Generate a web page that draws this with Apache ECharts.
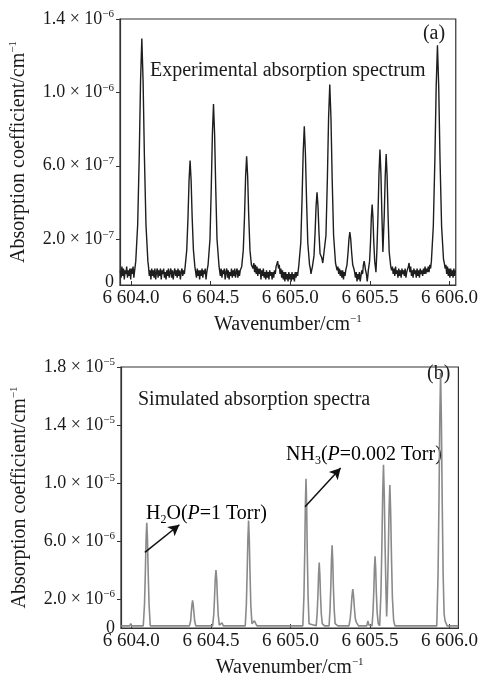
<!DOCTYPE html>
<html>
<head>
<meta charset="utf-8">
<script src="https://cdn.jsdelivr.net/npm/echarts@6/dist/echarts.min.js"></script>
<style>html,body{margin:0;padding:0;background:#fff;}#c{width:481px;height:680px;}</style>
</head>
<body>
<div id="c"></div>
<script>
// ---- data (wavenumber in cm^-1) ----
// (a) experimental absorption coefficient, in units of 1e-7 cm^-1
var expSpectrum = [
[6603.933,0.3],[6603.938,-0.1],[6603.943,0.5],[6603.948,0.0],[6603.953,0.4],[6603.958,-0.2],[6603.963,0.3],[6603.968,0.1],[6603.973,0.5],[6603.978,-0.1],
[6603.983,0.3],[6603.988,0.0],[6603.993,0.4],[6603.998,-0.2],[6604.003,0.4],[6604.008,0.1],[6604.013,0.5],[6604.018,-0.1],[6604.023,0.3],[6604.027,0.2],
[6604.030,0.8],[6604.042,2.8],[6604.052,6.6],[6604.060,10.6],[6604.068,12.94],[6604.076,10.6],[6604.084,6.6],[6604.094,2.8],[6604.106,0.8],
[6604.110,0.5],[6604.115,0.0],[6604.120,0.3],[6604.125,-0.2],[6604.130,0.4],[6604.135,0.0],[6604.140,0.3],[6604.145,-0.1],[6604.150,0.4],[6604.155,-0.2],
[6604.160,0.2],[6604.165,0.4],[6604.170,-0.1],[6604.175,0.3],[6604.180,0.0],[6604.185,0.4],[6604.190,-0.2],[6604.195,0.3],[6604.200,0.1],[6604.205,0.4],
[6604.210,-0.1],[6604.215,0.2],[6604.220,-0.2],[6604.225,0.3],[6604.230,0.0],[6604.235,0.4],[6604.240,-0.1],[6604.245,0.2],[6604.250,0.4],[6604.255,-0.1],
[6604.260,0.3],[6604.265,-0.2],[6604.270,0.2],[6604.275,0.4],[6604.280,0.0],[6604.285,0.3],[6604.290,-0.1],[6604.295,0.4],[6604.300,0.0],[6604.305,0.3],
[6604.310,-0.2],[6604.315,0.2],[6604.320,0.4],[6604.325,0.0],[6604.330,0.3],[6604.335,0.1],
[6604.340,0.5],[6604.350,1.4],[6604.358,3.2],[6604.3645,5.2],[6604.371,6.28],[6604.3775,5.2],[6604.384,3.2],[6604.392,1.4],[6604.401,0.5],
[6604.406,0.2],[6604.411,-0.1],[6604.416,0.4],[6604.421,0.0],[6604.426,0.3],[6604.431,-0.2],[6604.436,0.3],[6604.441,0.0],[6604.446,0.4],[6604.451,-0.1],
[6604.456,0.3],[6604.461,0.1],[6604.466,0.4],[6604.471,-0.2],[6604.476,0.2],[6604.480,0.4],
[6604.484,0.6],[6604.496,2.0],[6604.504,4.8],[6604.511,7.7],[6604.518,9.37],[6604.525,7.7],[6604.532,4.8],[6604.540,2.0],[6604.552,0.6],
[6604.556,0.3],[6604.561,0.0],[6604.566,0.4],[6604.571,-0.1],[6604.576,0.3],[6604.581,0.1],[6604.586,0.4],[6604.591,-0.2],[6604.596,0.2],[6604.601,0.4],
[6604.606,-0.1],[6604.611,0.3],[6604.616,-0.2],[6604.621,0.2],[6604.626,0.0],[6604.631,0.4],[6604.636,-0.1],[6604.641,0.3],[6604.646,0.0],[6604.651,0.4],
[6604.656,-0.1],[6604.661,0.2],[6604.666,0.4],[6604.671,-0.1],[6604.676,0.3],[6604.681,0.0],[6604.686,0.3],[6604.691,0.2],
[6604.695,0.5],[6604.705,1.4],[6604.713,3.3],[6604.7195,5.4],[6604.726,6.51],[6604.7325,5.4],[6604.739,3.3],[6604.747,1.4],[6604.756,0.6],
[6604.761,0.7],[6604.766,0.4],[6604.771,0.7],[6604.776,0.2],[6604.781,0.6],[6604.786,0.1],[6604.791,0.5],[6604.796,0.0],[6604.801,0.4],[6604.806,0.1],
[6604.811,0.4],[6604.816,-0.2],[6604.821,0.3],[6604.826,0.0],[6604.831,0.4],[6604.836,-0.1],[6604.841,0.2],[6604.846,-0.2],[6604.851,0.3],[6604.856,-0.1],
[6604.861,0.2],[6604.866,-0.2],[6604.871,0.3],[6604.876,0.0],[6604.881,0.2],[6604.886,-0.2],[6604.891,0.2],[6604.896,-0.1],[6604.901,0.3],[6604.906,0.1],
[6604.911,0.5],[6604.916,0.4],[6604.921,0.8],[6604.926,0.4],[6604.931,0.6],[6604.936,0.1],[6604.941,0.4],[6604.946,-0.1],[6604.951,0.3],[6604.956,-0.2],
[6604.961,0.2],[6604.966,-0.3],[6604.971,0.2],[6604.976,-0.2],[6604.981,0.1],[6604.986,-0.3],[6604.991,0.2],[6604.996,-0.2],[6605.001,0.1],[6605.006,-0.3],
[6605.011,0.2],[6605.016,-0.2],[6605.021,0.1],[6605.026,-0.3],[6605.031,0.2],[6605.036,-0.1],[6605.041,0.2],[6605.046,0.0],[6605.050,0.3],
[6605.054,0.6],[6605.066,1.8],[6605.074,4.2],[6605.081,6.7],[6605.088,8.15],[6605.095,6.7],[6605.102,4.2],[6605.110,1.8],[6605.121,0.6],
[6605.126,0.4],[6605.130,0.1],[6605.134,0.3],
[6605.139,0.5],[6605.149,1.1],[6605.156,2.4],[6605.162,3.8],[6605.168,4.55],[6605.174,3.8],[6605.180,2.4],[6605.187,1.2],[6605.197,1.0],[6605.204,0.7],
[6605.212,0.7],[6605.224,2.2],[6605.233,5.3],[6605.2405,8.6],[6605.248,10.43],[6605.2555,8.6],[6605.263,5.3],[6605.272,2.2],[6605.284,0.7],
[6605.289,0.6],[6605.294,0.3],[6605.299,0.5],[6605.304,0.1],[6605.309,0.4],[6605.314,0.0],[6605.319,0.3],[6605.324,-0.1],[6605.329,0.3],[6605.334,-0.2],
[6605.339,0.2],[6605.344,0.0],
[6605.348,0.3],[6605.356,0.6],[6605.363,1.3],[6605.3685,2.0],[6605.374,2.39],[6605.3795,2.0],[6605.385,1.3],[6605.392,0.6],[6605.399,0.4],
[6605.404,0.2],[6605.409,-0.1],[6605.414,0.2],[6605.419,-0.3],[6605.424,0.1],[6605.429,-0.2],[6605.434,0.2],[6605.439,-0.3],[6605.444,0.0],[6605.449,0.3],
[6605.454,0.1],[6605.459,0.6],[6605.464,0.8],[6605.468,0.9],[6605.473,0.3],[6605.478,0.1],[6605.483,-0.3],[6605.487,0.0],
[6605.490,0.3],[6605.498,0.8],[6605.504,1.9],[6605.509,3.2],[6605.514,3.88],[6605.519,3.2],[6605.524,1.9],[6605.530,0.8],[6605.538,0.2],
[6605.544,1.4],[6605.551,3.4],[6605.557,5.6],[6605.563,6.88],[6605.569,5.6],[6605.575,3.4],[6605.5815,1.3],
[6605.590,3.3],[6605.596,5.4],[6605.602,6.64],[6605.608,5.4],[6605.614,3.3],[6605.621,1.3],[6605.631,0.5],
[6605.636,0.3],[6605.641,0.5],[6605.646,0.1],[6605.651,0.4],[6605.656,0.0],[6605.661,0.5],[6605.666,0.1],[6605.671,0.3],[6605.676,-0.1],[6605.681,0.4],
[6605.686,0.0],[6605.691,0.3],[6605.696,-0.1],[6605.701,0.4],[6605.706,0.1],[6605.711,0.3],[6605.716,0.0],[6605.721,0.4],[6605.726,-0.1],[6605.731,0.2],
[6605.736,0.1],[6605.741,0.5],[6605.746,0.7],[6605.751,0.2],[6605.756,0.5],[6605.761,0.0],[6605.766,0.3],[6605.771,-0.1],[6605.776,0.4],[6605.781,0.1],
[6605.786,0.3],[6605.791,-0.1],[6605.796,0.4],[6605.801,0.0],[6605.806,0.3],[6605.811,-0.1],[6605.816,0.4],[6605.821,0.1],[6605.826,0.3],[6605.831,0.0],
[6605.836,0.4],[6605.841,0.1],[6605.846,0.5],[6605.851,0.1],[6605.856,0.4],[6605.861,0.2],[6605.866,0.5],[6605.871,0.2],[6605.876,0.6],[6605.881,0.4],
[6605.886,0.8],[6605.898,2.7],[6605.908,6.4],[6605.916,10.3],[6605.924,12.57],[6605.932,10.3],[6605.940,6.4],[6605.950,2.7],[6605.962,0.9],
[6605.967,0.7],[6605.972,0.4],[6605.977,0.6],[6605.982,0.1],[6605.987,0.5],[6605.992,0.0],[6605.997,0.4],[6606.002,-0.1],[6606.007,0.4],[6606.012,0.0],
[6606.017,0.3],[6606.022,-0.1],[6606.027,0.4],[6606.032,0.0],[6606.037,0.3]
];

// (b) simulated absorption coefficient, in units of 1e-6 cm^-1
var simSpectrum = [
[6603.936,0.15],[6603.990,0.15],[6603.996,0.3],[6604.002,0.15],
[6604.075,0.15],[6604.0826,1.6],[6604.088,3.8],[6604.0925,6.1],[6604.097,7.26],[6604.1015,6.1],[6604.106,3.8],[6604.1114,1.6],[6604.119,0.15],
[6604.365,0.15],[6604.373,0.5],[6604.377,1.1],[6604.381,1.6],[6604.385,1.90],[6604.389,1.6],[6604.393,1.1],[6604.398,0.5],[6604.405,0.15],
[6604.511,0.15],[6604.518,0.9],[6604.523,2.1],[6604.5275,3.4],[6604.532,3.99],[6604.5365,3.4],[6604.541,2.1],[6604.546,0.9],[6604.553,0.2],
[6604.562,0.2],[6604.570,0.35],[6604.578,0.15],
[6604.716,0.15],[6604.723,1.6],[6604.728,3.8],[6604.7325,6.1],[6604.737,7.42],[6604.7415,6.1],[6604.746,3.8],[6604.751,1.6],[6604.758,0.3],
[6604.766,0.3],[6604.774,0.5],[6604.782,0.3],[6604.790,0.15],
[6605.078,0.15],[6605.085,2.2],[6605.090,5.2],[6605.094,8.5],[6605.098,10.3],[6605.102,8.5],[6605.106,5.2],[6605.111,2.2],[6605.117,0.3],
[6605.162,0.15],[6605.168,1.0],[6605.173,2.3],[6605.177,3.7],[6605.181,4.52],[6605.185,3.7],[6605.189,2.3],[6605.194,1.0],[6605.200,0.3],
[6605.206,0.25],[6605.214,0.15],
[6605.243,0.15],[6605.249,1.3],[6605.254,2.9],[6605.258,4.7],[6605.262,5.71],[6605.266,4.7],[6605.270,2.9],[6605.275,1.3],[6605.281,0.3],
[6605.290,0.2],[6605.298,0.15],
[6605.368,0.15],[6605.376,0.65],[6605.382,1.4],[6605.387,2.2],[6605.392,2.69],[6605.397,2.2],[6605.402,1.4],[6605.408,0.65],[6605.414,0.4],
[6605.421,0.35],[6605.428,0.15],
[6605.480,0.15],[6605.487,0.48],[6605.494,0.2],
[6605.513,0.15],[6605.519,1.1],[6605.524,2.5],[6605.528,4.1],[6605.532,4.95],[6605.536,4.1],[6605.540,2.5],[6605.545,1.1],[6605.552,0.3],
[6605.561,0.15],[6605.569,2.4],[6605.575,5.7],[6605.580,9.2],[6605.585,11.25],[6605.590,9.2],[6605.595,5.7],[6605.601,2.4],[6605.605,0.8],
[6605.609,2.1],[6605.615,5.0],[6605.620,8.1],[6605.625,9.86],[6605.630,8.1],[6605.635,5.0],[6605.641,2.1],[6605.649,0.5],[6605.657,0.15],
[6605.920,0.15],[6605.928,3.7],[6605.934,8.9],[6605.939,14.4],[6605.944,17.6],[6605.949,14.4],[6605.954,8.9],[6605.960,3.7],[6605.966,1.0],
[6605.972,0.5],[6605.978,0.5],[6605.985,0.15],[6606.055,0.15]
];

// tick labels
var xTicks = [6604.0, 6604.5, 6605.0, 6605.5, 6606.0];
var yTicksA = [2, 6, 10, 14];          // x 1e-7
var yZeroA = -0.35;                    // position of the "0" label in (a)
var yTicksB = [0, 2, 6, 10, 14, 18];   // x 1e-6
var yTickMarksB = [2, 6, 10, 14, 18];

// annotation arrows in (b) [from, to] in data coordinates
var arrowH2O = [[6604.085, 5.21], [6604.302, 7.12]];
var arrowNH3 = [[6605.092, 8.36], [6605.316, 11.03]];

// ---- chart ----
var FF = '"Liberation Serif","Times New Roman",serif';
var TXT = '#1a1a1a';

function xFmt(v) { var s = v.toFixed(1); return s.charAt(0) + ' ' + s.slice(1); }
function yFmtA(v) {
  if (v <= 0) return '{n|0}';
  if (v >= 10) return '{n|' + (v / 10).toFixed(1) + ' \u00d7 10}{s|\u22126}';
  return '{n|' + v.toFixed(1) + ' \u00d7 10}{s|\u22127}';
}
function yFmtB(v) {
  if (v <= 0) return '{n|0}';
  if (v >= 10) return '{n|' + (v / 10).toFixed(1) + ' \u00d7 10}{s|\u22125}';
  return '{n|' + v.toFixed(1) + ' \u00d7 10}{s|\u22126}';
}
var yRich = {
  n: { fontFamily: FF, fontSize: 18, color: TXT, lineHeight: 20 },
  s: { fontFamily: FF, fontSize: 11, color: TXT, verticalAlign: 'top', lineHeight: 20 }
};
var nameRich = {
  s: { fontFamily: FF, fontSize: 11, color: TXT, verticalAlign: 'top', lineHeight: 22 }
};
var nameStyle = { fontFamily: FF, fontSize: 20, color: TXT, lineHeight: 22, rich: nameRich };

function xAxisCfg(idx, min, max) {
  return {
    type: 'value', gridIndex: idx, min: min, max: max,
    axisLine: { show: true, onZero: false, lineStyle: { color: '#333', width: 1.2 } },
    axisTick: { show: true, inside: true, length: 4, customValues: xTicks, lineStyle: { color: '#333' } },
    axisLabel: { customValues: xTicks, formatter: xFmt, fontFamily: FF, fontSize: 19, color: TXT, margin: 4 },
    splitLine: { show: false },
    name: 'Wavenumber/cm{s|\u22121}', nameLocation: 'middle', nameGap: 29, nameTextStyle: nameStyle
  };
}

var option = {
  animation: false,
  backgroundColor: '#fff',
  grid: [
    { left: 117, top: 19, width: 342, height: 266, show: true, borderColor: '#333', borderWidth: 1.2, backgroundColor: 'transparent' },
    { left: 121, top: 367, width: 341, height: 263, show: true, borderColor: '#333', borderWidth: 1.2, backgroundColor: 'transparent' }
  ],
  xAxis: [ xAxisCfg(0, 6603.931, 6606.039), xAxisCfg(1, 6603.935, 6606.056) ],
  yAxis: [
    {
      type: 'value', gridIndex: 0, min: -0.5, max: 14,
      axisLine: { show: true, onZero: false, lineStyle: { color: '#333', width: 1.2 } },
      axisTick: { show: true, length: 4, customValues: yTicksA, lineStyle: { color: '#333' } },
      axisLabel: { customValues: [yZeroA].concat(yTicksA), formatter: yFmtA, rich: yRich, margin: 6 },
      splitLine: { show: false },
      name: 'Absorption coefficient/cm{s|\u22121}', nameLocation: 'middle', nameRotate: 90, nameGap: 90, nameTextStyle: nameStyle
    },
    {
      type: 'value', gridIndex: 1, min: 0, max: 18,
      axisLine: { show: true, onZero: false, lineStyle: { color: '#333', width: 1.2 } },
      axisTick: { show: true, length: 4, customValues: yTickMarksB, lineStyle: { color: '#333' } },
      axisLabel: { customValues: yTicksB, formatter: yFmtB, rich: yRich, margin: 6 },
      splitLine: { show: false },
      name: 'Absorption coefficient/cm{s|\u22121}', nameLocation: 'middle', nameRotate: 90, nameGap: 90, nameTextStyle: nameStyle
    }
  ],
  series: [
    {
      type: 'line', xAxisIndex: 0, yAxisIndex: 0, data: expSpectrum,
      showSymbol: false, symbol: 'none', clip: true,
      lineStyle: { color: '#1e1e1e', width: 1.4 }
    },
    {
      type: 'line', xAxisIndex: 1, yAxisIndex: 1, data: simSpectrum,
      showSymbol: false, symbol: 'none', clip: true,
      lineStyle: { color: '#8a8a8a', width: 1.6 },
      markLine: {
        silent: true, symbol: ['none', 'arrow'], symbolSize: [9, 11],
        label: { show: false },
        lineStyle: { color: '#111', width: 1.5, type: 'solid' },
        data: [
          [{ coord: arrowH2O[0] }, { coord: arrowH2O[1] }],
          [{ coord: arrowNH3[0] }, { coord: arrowNH3[1] }]
        ]
      }
    }
  ],
  graphic: [
    { type: 'text', x: 434, y: 34, style: { text: '(a)', font: '20px ' + FF, fill: TXT, align: 'center', verticalAlign: 'middle' } },
    { type: 'text', x: 150, y: 71, style: { text: 'Experimental absorption spectrum', font: '20px ' + FF, fill: TXT, align: 'left', verticalAlign: 'middle' } },
    { type: 'text', x: 138, y: 400, style: { text: 'Simulated absorption spectra', font: '20px ' + FF, fill: TXT, align: 'left', verticalAlign: 'middle' } },
    { type: 'text', x: 427, y: 374, style: { text: '(b)', font: '20px ' + FF, fill: TXT, align: 'left', verticalAlign: 'middle' } },
    { type: 'text', x: 146, y: 514, style: {
        text: '{n|H}{sub|2}{n|O(}{i|P}{n|=1 Torr)}', align: 'left', verticalAlign: 'middle',
        rich: {
          n: { fontFamily: FF, fontSize: 20, color: TXT, lineHeight: 24 },
          i: { fontFamily: FF, fontSize: 20, fontStyle: 'italic', color: TXT, lineHeight: 24 },
          sub: { fontFamily: FF, fontSize: 12, color: TXT, verticalAlign: 'bottom', lineHeight: 24 }
        } } },
    { type: 'text', x: 286, y: 455, style: {
        text: '{n|NH}{sub|3}{n|(}{i|P}{n|=0.002 Torr)}', align: 'left', verticalAlign: 'middle',
        rich: {
          n: { fontFamily: FF, fontSize: 20, color: TXT, lineHeight: 24 },
          i: { fontFamily: FF, fontSize: 20, fontStyle: 'italic', color: TXT, lineHeight: 24 },
          sub: { fontFamily: FF, fontSize: 12, color: TXT, verticalAlign: 'bottom', lineHeight: 24 }
        } } }
  ]
};

var chart = echarts.init(document.getElementById('c'), null, { renderer: 'canvas' });
chart.setOption(option);
</script>
</body>
</html>
